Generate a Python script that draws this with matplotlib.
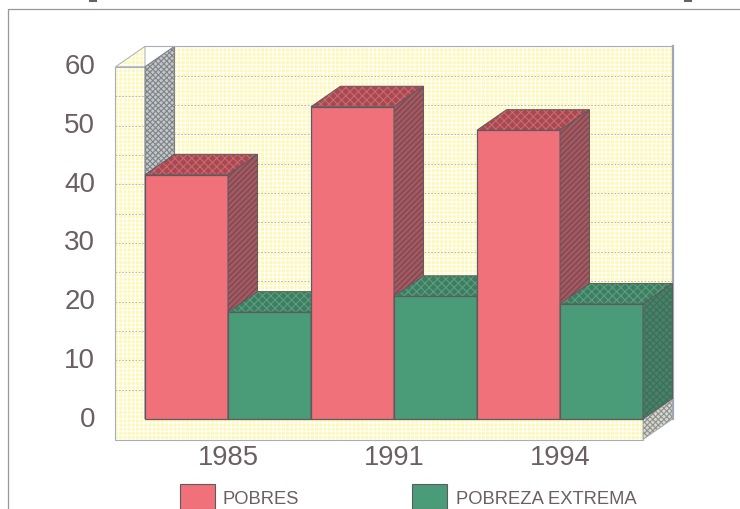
import matplotlib
matplotlib.use("Agg")
import matplotlib.pyplot as plt
from matplotlib.patches import Polygon

# Values
years = ["1985", "1991", "1994"]
pobres = [41.6, 53.2, 49.2]
extrema = [18.2, 20.9, 19.6]
y_ticks = [0, 10, 20, 30, 40, 50, 60]
legend_names = ["POBRES", "POBREZA EXTREMA"]

RED = "#f0717a"
GREEN = "#4a9c78"
YELLOW = "#fdf9b4"
TEXT = "#6b5f64"
EDGE = "#5e5a60"
GRID = "#a9abb4"

plt.rcParams["font.family"] = ["Liberation Sans", "DejaVu Sans"]
plt.rcParams["hatch.linewidth"] = 0.8

fig = plt.figure(figsize=(7.40, 5.09), dpi=100)
ax = fig.add_axes([0, 0, 1, 1])

# one x unit = one group of bars, one y unit = one point on the scale
PX_X = 166.0
PX_Y = 5.87
ax.set_xlim(-228 / PX_X, (740 - 228) / PX_X)
ax.set_ylim(-(509 - 419) / PX_Y, 419 / PX_Y)
ax.axis("off")

# depth of the 3D look, in data units
DX = 29.5 / PX_X
DY = 20.5 / PX_Y
BAR_W = 0.5


def face(points, color, hatch=None, hatch_color="white", edge=None, lw=0.0, z=1):
    ax.add_patch(Polygon(points, closed=True, facecolor=color, edgecolor="none", zorder=z))
    if hatch:
        ax.add_patch(Polygon(points, closed=True, facecolor="none", edgecolor=hatch_color,
                             hatch=hatch, linewidth=0, zorder=z))
    if edge:
        ax.add_patch(Polygon(points, closed=True, facecolor="none", edgecolor=edge,
                             linewidth=lw, zorder=z))


def box(x0, x1, top, color, top_colors, side_colors, side_hatch, z):
    face([(x0, 0), (x1, 0), (x1, top), (x0, top)], color, edge=EDGE, lw=0.9, z=z)
    face([(x0, top), (x1, top), (x1 + DX, top + DY), (x0 + DX, top + DY)], top_colors[0],
         hatch="xxxx", hatch_color=top_colors[1], edge=EDGE, lw=0.7, z=z)
    face([(x1, 0), (x1 + DX, DY), (x1 + DX, top + DY), (x1, top)], side_colors[0],
         hatch=side_hatch, hatch_color=side_colors[1], edge=EDGE, lw=0.7, z=z)


# walls of the chart box
x_left = -BAR_W - DX
x_right = 2 + BAR_W
floor = -DY
top = 60
face([(x_left, floor), (x_right, floor), (x_right, top), (x_left, top)], YELLOW,
     hatch="++++", edge="#a9adb8", lw=0.8, z=1)
face([(-BAR_W, 0), (-BAR_W + DX, DY), (x_right + DX, DY),
      (x_right + DX, top + DY), (-BAR_W + DX, top + DY), (-BAR_W, top)],
     YELLOW, hatch="++++", z=1)
# sloped top of the left panel, then the grey side wall
face([(x_left, top), (x_left + DX, top + DY), (-BAR_W, top)], YELLOW, hatch="++++",
     edge="#a9adb8", lw=0.7, z=2)
face([(-BAR_W, 0), (-BAR_W + DX, DY), (-BAR_W + DX, top + DY), (-BAR_W, top)], "#c4c7c9",
     hatch="xxxxxx", hatch_color="#7f8488", edge="#7d7f88", lw=0.8, z=2)
# strip along the right side
face([(x_right, floor), (x_right + DX, floor + DY), (x_right + DX, 3.3), (x_right, 0)],
     "#d8d8c4", hatch="xxxxxx", hatch_color="#8b9097", edge="#a9adb8", lw=0.7, z=2)
ax.plot([x_right + DX, x_right + DX], [floor + DY, top + DY], color="#a0a6b4", lw=1.6, zorder=2)
ax.plot([x_left + DX, x_right + DX], [top + DY, top + DY], color="#a9adb8", lw=0.8, zorder=2)

# dotted grid on the back wall and the left panel, one line every 5 points
for v in range(5, top, 5):
    ax.plot([-BAR_W + DX, x_right + DX], [v + DY, v + DY], color=GRID, lw=0.6,
            ls=(0, (2, 2)), zorder=2)
    ax.plot([x_left, -BAR_W], [v, v], color=GRID, lw=0.6, ls=(0, (2, 2)), zorder=2)

# red first, so the green top lies over the foot of the red side
for i in range(len(years)):
    z = 3 + i * 2
    box(i - BAR_W, i, pobres[i], RED, ("#a84850", "#c96a70"), ("#a05a62", "#7f424c"), "//////", z)
    box(i, i + BAR_W, extrema[i], GREEN, ("#3d7d60", "#5d9d80"), ("#4a8069", "#3a7058"), "xxxxx", z + 1)

# labels
for v in y_ticks:
    ax.text(-0.80, v - 0.1, str(v), ha="right", va="center", fontsize=20, color=TEXT, zorder=10)
for i, year in enumerate(years):
    ax.text(i, -6.6, year, ha="center", va="center", fontsize=19.7, color=TEXT, zorder=10)

# legend, placed in axes fractions
ax.add_patch(plt.Rectangle((180 / 740, 0), 35 / 740, 25 / 509, transform=ax.transAxes,
                           facecolor=RED, edgecolor=EDGE, lw=0.8, zorder=10))
ax.text(223 / 740, 10 / 509, legend_names[0], transform=ax.transAxes, va="center",
        fontsize=13.2, color=TEXT)
ax.add_patch(plt.Rectangle((412 / 740, 0), 35 / 740, 25 / 509, transform=ax.transAxes,
                           facecolor=GREEN, edgecolor=EDGE, lw=0.8, zorder=10))
ax.text(456 / 740, 10 / 509, legend_names[1], transform=ax.transAxes, va="center",
        fontsize=13.2, color=TEXT)

# page frame from the scan, with the ink of the cut-off line above it
ax.plot([8 / 740, 8 / 740, 1], [0, 500 / 509, 500 / 509], transform=ax.transAxes,
        color="#9b9698", lw=0.9, zorder=10)
for x_px in (93, 688):
    ax.plot([(x_px - 3) / 740, (x_px + 3) / 740], [508 / 509, 508 / 509], transform=ax.transAxes,
            color=TEXT, lw=1.5, zorder=10)

fig.savefig("out.png", dpi=100)
